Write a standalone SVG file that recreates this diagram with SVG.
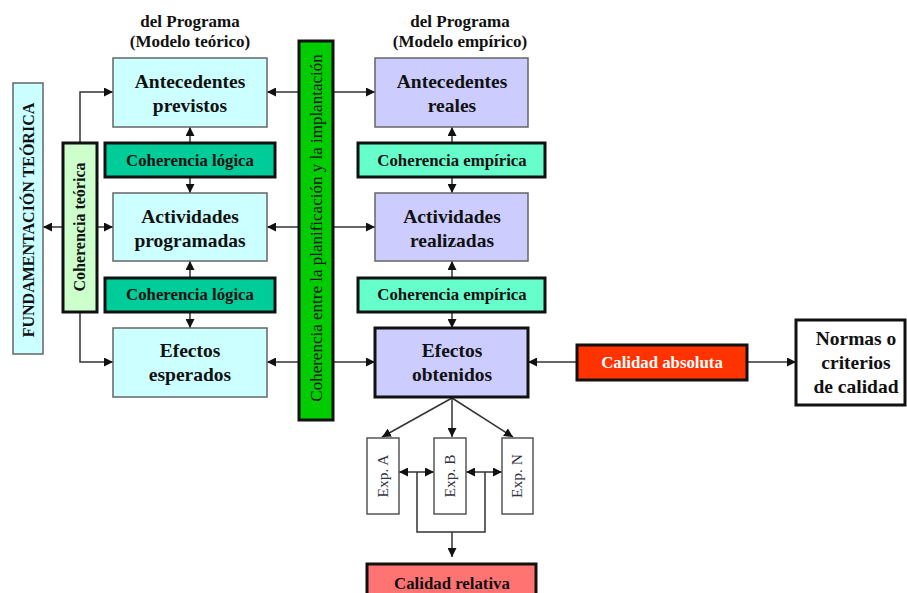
<svg xmlns="http://www.w3.org/2000/svg" width="907" height="593" viewBox="0 0 907 593">
<defs>
<marker id="ah" viewBox="0 0 10 10" refX="10" refY="5" markerWidth="9" markerHeight="9" markerUnits="userSpaceOnUse" orient="auto">
<path d="M0,0 L10,5 L0,10 z" fill="#111"/>
</marker>
</defs>
<style>
text{font-family:'Liberation Serif','Times New Roman','DejaVu Serif',serif;fill:#111}
.h{font-size:17px;font-weight:bold}
.big{font-size:19.5px;font-weight:bold}
.mid{font-size:16.8px;font-weight:bold}
.vt{font-size:16px;font-weight:bold}
.thin{fill:#ccffff;stroke:#666;stroke-width:1.5}
.emp{fill:#ccccff;stroke:#666;stroke-width:1.5}
.thick{stroke:#111;stroke-width:3}
.c{stroke:#333;stroke-width:1.5;fill:none}
.ca{stroke:#333;stroke-width:1.5;fill:none;marker-end:url(#ah)}
.exp{fill:#fff;stroke:#555;stroke-width:1.5}
.et{font-size:15.5px;fill:#334}
</style>
<rect width="907" height="593" fill="#fff"/>

<g id="headers">
<text class="h" x="190" y="27" text-anchor="middle">del Programa</text>
<text class="h" x="190" y="47" text-anchor="middle">(Modelo teórico)</text>
<text class="h" x="460" y="27" text-anchor="middle">del Programa</text>
<text class="h" x="460" y="47" text-anchor="middle">(Modelo empírico)</text>
</g>

<g id="connectors">
<path class="ca" d="M80,143 V92 H113"/>
<path class="ca" d="M80,312 V362 H113"/>
<path class="ca" d="M62,227 H43"/>
<path class="ca" d="M97,227 H113"/>
<path class="ca" d="M190,143 V127"/>
<path class="ca" d="M190,177 V193"/>
<path class="ca" d="M190,278 V261"/>
<path class="ca" d="M190,312 V328"/>
<path class="ca" d="M452,143 V127"/>
<path class="ca" d="M452,177 V193"/>
<path class="ca" d="M452,278 V261"/>
<path class="ca" d="M452,312 V328"/>
<path class="ca" d="M299,92 H267"/>
<path class="ca" d="M333,92 H375"/>
<path class="ca" d="M299,227 H267"/>
<path class="ca" d="M333,227 H375"/>
<path class="ca" d="M299,362 H267"/>
<path class="ca" d="M333,362 H375"/>
<path class="ca" d="M577,362 H528"/>
<path class="ca" d="M747,362 H796"/>
<path class="ca" d="M452,398 L382,437"/>
<path class="ca" d="M452,398 V437"/>
<path class="ca" d="M452,398 L513,437"/>
<path class="ca" d="M417,472 H399"/>
<path class="ca" d="M417,472 H434"/>
<path class="ca" d="M485,472 H466"/>
<path class="ca" d="M485,472 H502"/>
<path class="c" d="M417,472 V532 H485 V472"/>
<path class="ca" d="M452,532 V557"/>
</g>

<g id="fundamentacion">
<rect class="thin" x="13" y="83" width="30" height="271"/>
<text class="vt" transform="translate(34,220) rotate(-90)" text-anchor="middle">FUNDAMENTACIÓN TEÓRICA</text>
</g>

<g id="coherencia-teorica">
<rect class="thick" fill="#ccffcc" x="63" y="143" width="34" height="169"/>
<text class="vt" transform="translate(85,227) rotate(-90)" text-anchor="middle">Coherencia teórica</text>
</g>

<g id="antecedentes-previstos">
<rect class="thin" x="113" y="58" width="154" height="69"/>
<text class="big" x="190" y="88" text-anchor="middle">Antecedentes</text>
<text class="big" x="190" y="112" text-anchor="middle">previstos</text>
</g>
<g id="coherencia-logica-1">
<rect class="thick" fill="#00cc99" x="105" y="143" width="170" height="34"/>
<text class="mid" x="190" y="166" text-anchor="middle">Coherencia lógica</text>
</g>
<g id="actividades-programadas">
<rect class="thin" x="113" y="193" width="154" height="68"/>
<text class="big" x="190" y="223" text-anchor="middle">Actividades</text>
<text class="big" x="190" y="247" text-anchor="middle">programadas</text>
</g>
<g id="coherencia-logica-2">
<rect class="thick" fill="#00cc99" x="105" y="278" width="170" height="34"/>
<text class="mid" x="190" y="300" text-anchor="middle">Coherencia lógica</text>
</g>
<g id="efectos-esperados">
<rect class="thin" x="113" y="328" width="154" height="69"/>
<text class="big" x="190" y="357" text-anchor="middle">Efectos</text>
<text class="big" x="190" y="381" text-anchor="middle">esperados</text>
</g>

<g id="coherencia-planificacion">
<rect class="thick" fill="#00cc00" x="299" y="41" width="34" height="379"/>
<text font-size="17" transform="translate(322,228) rotate(-90)" text-anchor="middle">Coherencia entre la planificación y la implantación</text>
</g>

<g id="antecedentes-reales">
<rect class="emp" x="375" y="58" width="153" height="69"/>
<text class="big" x="452" y="88" text-anchor="middle">Antecedentes</text>
<text class="big" x="452" y="112" text-anchor="middle">reales</text>
</g>
<g id="coherencia-empirica-1">
<rect class="thick" fill="#66ffcc" x="358" y="143" width="187" height="34"/>
<text class="mid" x="452" y="166" text-anchor="middle">Coherencia empírica</text>
</g>
<g id="actividades-realizadas">
<rect class="emp" x="375" y="193" width="153" height="68"/>
<text class="big" x="452" y="223" text-anchor="middle">Actividades</text>
<text class="big" x="452" y="247" text-anchor="middle">realizadas</text>
</g>
<g id="coherencia-empirica-2">
<rect class="thick" fill="#66ffcc" x="358" y="278" width="187" height="34"/>
<text class="mid" x="452" y="300" text-anchor="middle">Coherencia empírica</text>
</g>
<g id="efectos-obtenidos">
<rect class="thick" fill="#ccccff" x="375" y="328" width="153" height="69"/>
<text class="big" x="452" y="357" text-anchor="middle">Efectos</text>
<text class="big" x="452" y="381" text-anchor="middle">obtenidos</text>
</g>

<g id="calidad-absoluta">
<rect class="thick" fill="#ff3300" x="577" y="345" width="170" height="35"/>
<text class="mid" x="662" y="368" text-anchor="middle" style="fill:#fff">Calidad absoluta</text>
</g>
<g id="normas">
<rect class="thick" fill="#fff" x="796" y="320" width="109" height="85"/>
<text class="big" x="856" y="345" text-anchor="middle">Normas o</text>
<text class="big" x="856" y="369" text-anchor="middle">criterios</text>
<text class="big" x="856" y="393" text-anchor="middle">de calidad</text>
</g>

<g id="exp-a">
<rect class="exp" x="367" y="438" width="32" height="76"/>
<text class="et" transform="translate(388,476) rotate(-90)" text-anchor="middle">Exp. A</text>
</g>
<g id="exp-b">
<rect class="exp" x="434" y="438" width="32" height="76"/>
<text class="et" transform="translate(455,476) rotate(-90)" text-anchor="middle">Exp. B</text>
</g>
<g id="exp-n">
<rect class="exp" x="502" y="438" width="31" height="76"/>
<text class="et" transform="translate(522,476) rotate(-90)" text-anchor="middle">Exp. N</text>
</g>

<g id="calidad-relativa">
<rect class="thick" fill="#ff7373" x="367" y="564" width="169" height="40"/>
<text class="mid" x="452" y="589" text-anchor="middle">Calidad relativa</text>
</g>
</svg>
